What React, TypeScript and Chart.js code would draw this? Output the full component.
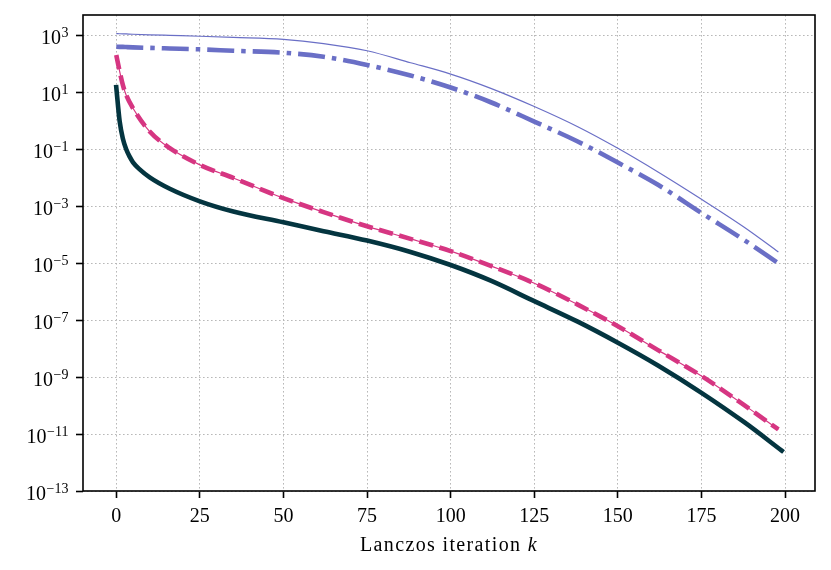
import { useEffect, useRef } from 'react';
import Chart from 'chart.js/auto';

const steps = [0, 1, 2, 3, 5, 10, 16, 25, 35, 50, 62, 75, 88, 100, 112, 125, 138, 150, 162, 175, 188, 198];
const tealSteps = [0, 1, 2, 3, 4, 5, 7, 10, 16, 25, 35, 50, 62, 75, 88, 100, 112, 125, 138, 150, 162, 175, 188, 199];

const errorBound = [1175, 1169, 1161, 1148, 1122, 1072, 1023, 955, 871, 741, 525, 295, 112, 44.7, 14.1, 3.24, 0.631, 0.11, 0.0162, 1.78e-3, 1.78e-4, 2.51e-5];
const errorEstimate = [407, 405, 403, 398, 389, 372, 355, 331, 295, 251, 182, 93.3, 39.8, 15.1, 4.57, 0.955, 0.191, 0.0347, 5.75e-3, 5.89e-4, 6.31e-5, 1.0e-5];
const residualNorm = [209, 56.2, 17.8, 7.94, 2.82, 0.427, 0.112, 0.0288, 0.01, 1.95e-3, 6.31e-4, 2.0e-4, 7.24e-5, 2.69e-5, 8.13e-6, 2.0e-6, 3.55e-7, 6.17e-8, 8.91e-9, 1.1e-9, 1.0e-10, 1.45e-11];
const trueError = [15.5, 1.0, 0.234, 0.1, 0.056, 0.0355, 0.02, 0.0105, 4.17e-3, 1.51e-3, 6.61e-4, 2.75e-4, 1.35e-4, 6.31e-5, 2.51e-5, 8.71e-6, 2.45e-6, 4.68e-7, 8.91e-8, 1.62e-8, 2.57e-9, 2.82e-10, 2.51e-11, 2.63e-12];

const xTicks = [0, 25, 50, 75, 100, 125, 150, 175, 200];
const yExponents = [3, 1, -1, -3, -5, -7, -9, -11, -13];

const FONT = '"Liberation Serif", "DejaVu Serif", serif';
const BLUE = '#6a6fc6';
const MAGENTA = '#d63682';
const TEAL = '#043540';

const pts = (xs: number[], ys: number[]) => xs.map((x, i) => ({ x, y: ys[i] }));

const decorations = {
  id: 'decorations',
  afterDraw(chart: any) {
    const { ctx, chartArea } = chart;
    const yScale = chart.scales.y;
    ctx.save();
    // frame
    ctx.strokeStyle = '#000';
    ctx.lineWidth = 1.6;
    ctx.strokeRect(chartArea.left, chartArea.top, chartArea.right - chartArea.left, chartArea.bottom - chartArea.top);

    // y tick labels with superscripts
    ctx.fillStyle = '#000';
    ctx.textBaseline = 'alphabetic';
    ctx.textAlign = 'left';
    const xRight = chartArea.left - 14.5;
    yExponents.forEach((e) => {
      const y = yScale.getPixelForValue(Math.pow(10, e));
      const exp = e < 0 ? '\u2212' + Math.abs(e) : String(e);
      ctx.font = `14px ${FONT}`;
      const ew = ctx.measureText(exp).width;
      ctx.fillText(exp, xRight - ew, y + 1.5);
      ctx.font = `20px ${FONT}`;
      const bw = ctx.measureText('10').width;
      ctx.fillText('10', xRight - ew - bw - 0.5, y + 8.6);
    });

    // x axis title
    const cx = (chartArea.left + chartArea.right) / 2;
    const main = 'Lanczos iteration ';
    ctx.font = `20px ${FONT}`;
    const mw = ctx.measureText(main).width;
    ctx.font = `italic 20px ${FONT}`;
    const kw = ctx.measureText('k').width;
    (ctx as any).letterSpacing = `${(178 - mw - kw) / 19}px`;
    ctx.font = `20px ${FONT}`;
    const mw2 = ctx.measureText(main).width;
    ctx.font = `italic 20px ${FONT}`;
    const kw2 = ctx.measureText('k').width;
    const x0 = cx - (mw2 + kw2) / 2;
    ctx.font = `20px ${FONT}`;
    ctx.fillText(main, x0, 550.7);
    ctx.font = `italic 20px ${FONT}`;
    ctx.fillText('k', x0 + mw2, 550.7);
    ctx.restore();
  },
};

export default function App() {
  const canvasRef = useRef<HTMLCanvasElement | null>(null);

  useEffect(() => {
    if (!canvasRef.current) return;
    const gridOpts = { color: '#b8b8b8', lineWidth: 1, tickColor: '#000', tickWidth: 1.6, tickLength: 7 };
    const line = { pointRadius: 0, cubicInterpolationMode: 'monotone' };
    const chart = new Chart(canvasRef.current, {
      type: 'line',
      data: {
        datasets: [
          { ...line, data: pts(steps, errorBound), borderColor: BLUE, borderWidth: 1.2 },
          { ...line, data: pts(steps, errorEstimate), borderColor: BLUE, borderWidth: 4.6, borderDash: [27, 7, 4.5, 7], borderCapStyle: 'butt' },
          { ...line, data: pts(steps, residualNorm), borderColor: MAGENTA, borderWidth: 1.2 },
          { ...line, data: pts(steps, residualNorm), borderColor: MAGENTA, borderWidth: 4.6, borderDash: [14.5, 6.5], borderCapStyle: 'butt' },
          { ...line, data: pts(tealSteps, trueError), borderColor: TEAL, borderWidth: 4.6, borderCapStyle: 'square' },
        ],
      },
      options: {
        animation: false,
        responsive: false,
        layout: { padding: { left: 0, top: 15, right: 16, bottom: 0 } },
        plugins: { legend: { display: false }, tooltip: { enabled: false } },
        scales: {
          x: {
            type: 'linear',
            min: -9.95,
            max: 208.95,
            afterBuildTicks: (s: any) => { s.ticks = xTicks.map((v) => ({ value: v })); },
            afterFit: (s: any) => { s.height = 79; },
            ticks: { font: { family: FONT, size: 20 }, color: '#000', padding: 7, maxRotation: 0, autoSkip: false },
            grid: gridOpts,
            border: { display: false, dash: [1.6, 2.4] },
          },
          y: {
            type: 'logarithmic',
            min: 1e-13,
            max: 5320,
            afterBuildTicks: (s: any) => { s.ticks = yExponents.map((e) => ({ value: Math.pow(10, e) })); },
            afterFit: (s: any) => { s.width = 83; },
            ticks: { display: false },
            grid: gridOpts,
            border: { display: false, dash: [1.6, 2.4] },
          },
        },
      },
      plugins: [decorations],
    } as any);
    return () => chart.destroy();
  }, []);

  return (
    <div style={{ position: 'absolute', left: 0, top: 0, width: 831, height: 570, background: '#fff' }}>
      <canvas ref={canvasRef} width={831} height={570} />
    </div>
  );
}
